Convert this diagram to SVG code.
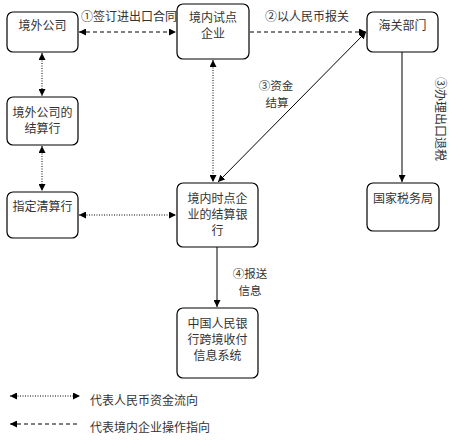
<svg xmlns="http://www.w3.org/2000/svg" width="453" height="442" viewBox="0 0 453 442">
<defs>
<marker id="ah" viewBox="0 0 10 10" refX="10" refY="5" markerWidth="7" markerHeight="7" orient="auto-start-reverse" markerUnits="userSpaceOnUse"><path d="M0,0 L10,5 L0,10 z" fill="#000"/></marker>
</defs>
<style>
.box{fill:#fff;stroke:#000;stroke-width:1.2}
.t{font-family:"Noto Sans CJK SC","Liberation Serif",serif;font-size:12px;fill:#333;text-anchor:middle}
.s{font-family:"Noto Sans CJK SC","Liberation Serif",serif;font-size:11.5px;fill:#333;text-anchor:middle}
.l{font-family:"Noto Sans CJK SC","Liberation Serif",serif;font-size:12px;fill:#333}
.dot{fill:none;stroke:#000;stroke-width:1;stroke-dasharray:1 1.5}
.dash{fill:none;stroke:#000;stroke-width:1;stroke-dasharray:4 3}
.sol{fill:none;stroke:#000;stroke-width:1}
</style>
<rect width="453" height="442" fill="#fff"/>
<g id="connectors">
<line class="dash" x1="79" y1="32" x2="176" y2="32" marker-start="url(#ah)" marker-end="url(#ah)"/>
<line class="dash" x1="250" y1="32" x2="366" y2="32" marker-end="url(#ah)"/>
<line class="dot" x1="42" y1="53" x2="42" y2="96" marker-start="url(#ah)" marker-end="url(#ah)"/>
<line class="dot" x1="42" y1="146" x2="42" y2="191" marker-start="url(#ah)" marker-end="url(#ah)"/>
<line class="dot" x1="79" y1="215" x2="176" y2="215" marker-start="url(#ah)" marker-end="url(#ah)"/>
<line class="dot" x1="213" y1="60" x2="213" y2="182" marker-start="url(#ah)" marker-end="url(#ah)"/>
<line class="sol" x1="366" y1="32" x2="218" y2="182" marker-start="url(#ah)" marker-end="url(#ah)"/>
<line class="sol" x1="402" y1="52" x2="402" y2="182" marker-end="url(#ah)"/>
<line class="sol" x1="217" y1="247" x2="217" y2="307" marker-end="url(#ah)"/>
<text class="l" x="81" y="21">①签订进出口合同</text>
<text class="t" x="307" y="21">②以人民币报关</text>
<text class="s" x="276" y="90">③资金</text>
<text class="s" x="277" y="107">结算</text>
<text class="l" transform="translate(436,77) rotate(90)">③办理出口退税</text>
<text class="s" x="250" y="278">④报送</text>
<text class="s" x="250" y="295">信息</text>
</g>
<g id="n1"><rect class="box" x="7" y="12" width="71" height="40" rx="6"/><text class="t" x="42.5" y="30">境外公司</text></g>
<g id="n2"><rect class="box" x="177" y="4" width="72" height="55" rx="6"/><text class="t" x="213" y="22">境内试点</text><text class="t" x="213" y="38">企业</text></g>
<g id="n3"><rect class="box" x="367" y="12" width="71" height="40" rx="6"/><text class="t" x="402.5" y="30">海关部门</text></g>
<g id="n4"><rect class="box" x="7" y="97" width="71" height="48" rx="6"/><text class="t" x="42.5" y="117">境外公司的</text><text class="t" x="42.5" y="133">结算行</text></g>
<g id="n5"><rect class="box" x="7" y="192" width="71" height="46" rx="6"/><text class="t" x="42.5" y="211">指定清算行</text></g>
<g id="n6"><rect class="box" x="177" y="183" width="81" height="64" rx="6"/><text class="t" x="217.5" y="203">境内时点企</text><text class="t" x="217.5" y="219">业的结算银</text><text class="t" x="217.5" y="235">行</text></g>
<g id="n7"><rect class="box" x="367" y="183" width="72" height="48" rx="6"/><text class="t" x="403" y="203">国家税务局</text></g>
<g id="n8"><rect class="box" x="177" y="308" width="81" height="70" rx="6"/><text class="t" x="217.5" y="328">中国人民银</text><text class="t" x="217.5" y="344">行跨境收付</text><text class="t" x="217.5" y="360">信息系统</text></g>
<g id="legend">
<line class="dot" x1="10" y1="396" x2="80" y2="396" marker-start="url(#ah)" marker-end="url(#ah)"/>
<text class="l" x="90" y="405">代表人民币资金流向</text>
<line class="dash" x1="10" y1="424" x2="80" y2="424" marker-start="url(#ah)"/>
<text class="l" x="90" y="432">代表境内企业操作指向</text>
</g>
</svg>
